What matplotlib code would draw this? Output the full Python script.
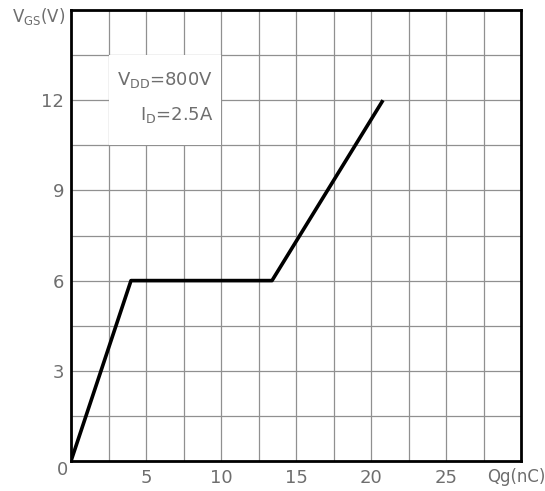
import matplotlib.pyplot as plt
from matplotlib.patches import Rectangle
import numpy as np

# gate charge curve
qg = [0, 4.0, 13.4, 20.8]
vgs = [0, 6, 6, 12]

xticks = [5, 10, 15, 20, 25]
yticks = [3, 6, 9, 12]

fig = plt.figure(figsize=(5.45, 4.91), dpi=100)
ax = fig.add_axes([71 / 545, 30 / 491, 450 / 545, 451 / 491])

ax.set_xlim(0, 30)
ax.set_ylim(0, 15)

gc = '#909090'
for x in np.arange(2.5, 30, 2.5):
    ax.axvline(x, color=gc, lw=0.9, zorder=1)
for y in np.arange(1.5, 15, 1.5):
    ax.axhline(y, color=gc, lw=0.9, zorder=1)

# white box behind the conditions text
ax.add_patch(Rectangle((2.5, 10.5), 7.5, 3.0, facecolor='white', edgecolor='none', zorder=2))

ax.plot(qg, vgs, color='black', lw=2.6, zorder=3, solid_capstyle='butt')

tc = '#6e6e6e'
fs = 13
ax.set_xticks(xticks)
ax.set_yticks(yticks)
ax.set_xticklabels([str(t) for t in xticks])
ax.set_yticklabels([str(t) for t in yticks])
ax.tick_params(length=0, labelsize=fs, labelcolor=tc, pad=6)
ax.tick_params(axis='y', pad=5)

for s in ax.spines.values():
    s.set_linewidth(2)
    s.set_color('black')

ax.text(-0.6, -0.3, '0', ha='center', va='center', fontsize=fs, color=tc, clip_on=False)
ax.text(31.6, -0.53, 'Qg(nC)', ha='right', va='center', fontsize=12, color=tc, clip_on=False)
ax.text(-0.35, 14.8, r'V$_{\mathregular{GS}}$(V)', ha='right', va='center', fontsize=12,
        color=tc, clip_on=False)

ax.text(9.5, 12.67, r'V$_{\mathregular{DD}}$=800V', ha='right', va='center', fontsize=13, color=tc, zorder=4)
ax.text(9.5, 11.51, r'I$_{\mathregular{D}}$=2.5A', ha='right', va='center', fontsize=13, color=tc, zorder=4)

fig.savefig('out.png', dpi=100)
